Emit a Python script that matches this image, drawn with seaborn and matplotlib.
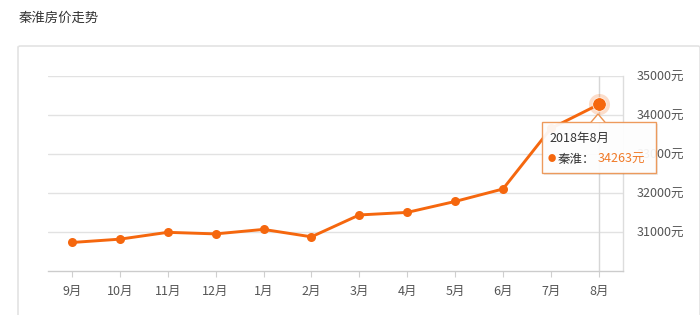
import matplotlib
matplotlib.use("Agg")
import matplotlib.pyplot as plt
import seaborn as sns
import pandas as pd
from matplotlib.patches import FancyBboxPatch, Polygon, Rectangle

months = ["9月", "10月", "11月", "12月", "1月", "2月", "3月", "4月", "5月", "6月", "7月", "8月"]
prices = [30730, 30815, 30990, 30950, 31065, 30875, 31435, 31500, 31780, 32100, 33650, 34263]
yticks = [31000, 32000, 33000, 34000, 35000]
title = "秦淮房价走势"
series_name = "秦淮"
tip_date = "2018年8月"

sns.set_theme(style="white")
plt.rcParams['font.family'] = ['Noto Sans CJK SC', 'DejaVu Sans']

W, H = 700, 315
fig = plt.figure(figsize=(W / 100, H / 100), dpi=100)
fig.patch.set_facecolor("white")

def fx(x):
    return x / W

def fy(y):
    return 1 - y / H

# panel border
fig.add_artist(FancyBboxPatch((fx(18), fy(330)), fx(700) - fx(18), fy(46) - fy(330),
                              boxstyle="round,pad=0,rounding_size=0.004",
                              transform=fig.transFigure, facecolor="white",
                              edgecolor="#e3e3e3", linewidth=1.2, zorder=0))
fig.text(fx(19), fy(18), title, fontsize=9.6, color="#333333", va="center", ha="left")

ax = fig.add_axes([fx(48), fy(271), fx(622.7) - fx(48), fy(75.7) - fy(271)])
ax.set_facecolor("none")

df = pd.DataFrame({"month": months, "price": prices})
df["idx"] = range(len(months))
orange = "#f5670e"
sns.lineplot(data=df, x="idx", y="price", ax=ax, color=orange, linewidth=2.1,
             marker="o", markersize=6.5, markeredgewidth=0, zorder=3)

ax.set_xlim(-0.5, len(months) - 0.5)
ax.set_ylim(30000, 35000)
ax.set_xticks(range(len(months)))
ax.set_xticklabels(months)
ax.set_yticks(yticks)
ax.set_yticklabels([f"{v}元" for v in yticks])
ax.yaxis.tick_right()
ax.tick_params(axis="y", length=0, pad=10, labelsize=9, labelcolor="#555555")
ax.tick_params(axis="x", length=4, width=0.8, color="#cfcfcf", pad=6, labelsize=9,
               labelcolor="#555555", bottom=True)
ax.set_xlabel("")
ax.set_ylabel("")
for v in yticks:
    ax.axhline(v, color="#e2e2e2", linewidth=1.0, zorder=1)
for s in ["left", "top"]:
    ax.spines[s].set_visible(False)
ax.spines["bottom"].set_color("#cccccc")
ax.spines["bottom"].set_linewidth(1.0)
ax.spines["right"].set_color("#dddddd")
ax.spines["right"].set_linewidth(1.0)

# crosshair on last point
last = len(months) - 1
ax.axvline(last, color="#d6d6d6", linewidth=1.0, zorder=2)
ax.scatter([last], [prices[-1]], s=230, color=orange, alpha=0.22, linewidths=0, zorder=4)
ax.scatter([last], [prices[-1]], s=95, color=orange, edgecolors="white", linewidths=0.5, zorder=5)

# tooltip
x0, x1, y0, y1 = 541.7, 656, 121.7, 173.3
fig.add_artist(Rectangle((fx(x0 + 2), fy(y1 + 2)), fx(x1) - fx(x0), fy(y0) - fy(y1),
                         transform=fig.transFigure, facecolor="#000000", alpha=0.08,
                         edgecolor="none", zorder=10))
fig.add_artist(Rectangle((fx(x0), fy(y1)), fx(x1) - fx(x0), fy(y0) - fy(y1),
                         transform=fig.transFigure, facecolor="white", alpha=0.93,
                         edgecolor="#ec9350", linewidth=1.0, zorder=11))
fig.add_artist(Polygon([(fx(591), fy(y0 + 0.5)), (fx(598), fy(114)), (fx(605), fy(y0 + 0.5))],
                       closed=False, transform=fig.transFigure, facecolor="white",
                       edgecolor="#ec9350", linewidth=1.0, zorder=12))
fig.text(fx(549), fy(138), tip_date, fontsize=9, color="#333333", va="center", ha="left", zorder=13)
fig.text(fx(548), fy(159), "●", fontsize=6, color=orange, va="center", ha="left", zorder=13)
fig.text(fx(558), fy(159), f"{series_name}：", fontsize=9, color="#333333", va="center", ha="left", zorder=13)
fig.text(fx(598), fy(159), f"{prices[-1]}元", fontsize=9, color="#f07a28", va="center", ha="left", zorder=13)

fig.savefig("out.png", dpi=100)
